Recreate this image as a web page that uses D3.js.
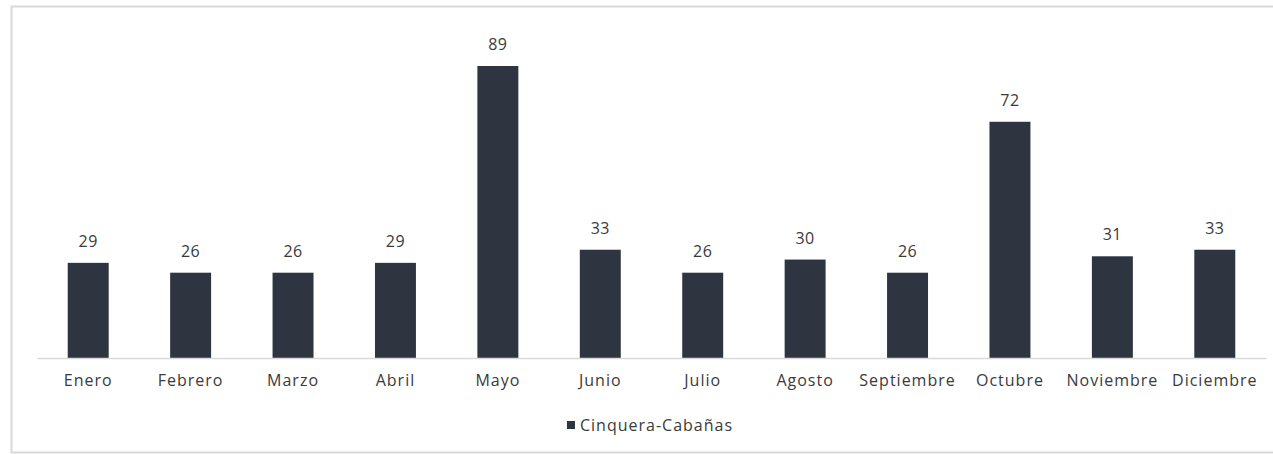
<!DOCTYPE html>
<html>
<head>
<meta charset="utf-8">
<script src="https://cdn.jsdelivr.net/npm/d3@7"></script>
<style>
  html, body { margin: 0; padding: 0; background: #fff; }
  svg { display: block; }
  text { font-family: "Open Sans", "Noto Sans", sans-serif; fill: #3a3a3a; }
</style>
</head>
<body>
<svg id="chart" width="1273" height="454"></svg>
<script>
const categories = ["Enero","Febrero","Marzo","Abril","Mayo","Junio","Julio","Agosto","Septiembre","Octubre","Noviembre","Diciembre"];
const values = [29, 26, 26, 29, 89, 33, 26, 30, 26, 72, 31, 33];
const seriesName = "Cinquera-Cabañas";

const W = 1273, H = 454;
const margin = { left: 37, right: 7 };
const svg = d3.select("#chart");

// frame
svg.append("rect")
  .attr("x", 11.5).attr("y", 6.5)
  .attr("width", W + 10).attr("height", H - 8)
  .attr("fill", "none").attr("stroke", "#d9d9d9").attr("stroke-width", 2);

const x = d3.scaleBand().domain(categories)
  .range([margin.left, W - margin.right]).paddingInner(0.6).paddingOuter(0.3);
const baseY = 358;
const y = d3.scaleLinear().domain([0, 89]).range([baseY, 66]);

svg.selectAll("rect.bar").data(values).join("rect")
  .attr("class", "bar")
  .attr("x", (d, i) => x(categories[i]))
  .attr("width", x.bandwidth())
  .attr("y", d => y(d))
  .attr("height", d => baseY - y(d))
  .attr("fill", "#2e3540");

svg.selectAll("text.val").data(values).join("text")
  .attr("class", "val")
  .attr("x", (d, i) => x(categories[i]) + x.bandwidth() / 2)
  .attr("y", d => y(d) - 16)
  .attr("text-anchor", "middle")
  .attr("font-size", 16)
  .style("letter-spacing", "0.5px")
  .text(d => d);

const axis = d3.axisBottom(x).tickSize(0).tickPadding(17);
const gx = svg.append("g").attr("transform", `translate(0,${baseY})`).call(axis);
gx.select(".domain").attr("stroke", "#d9d9d9").attr("stroke-width", 1.5);
gx.selectAll("text").attr("font-size", 16)
  .style("font-family", '"Open Sans", "Noto Sans", sans-serif')
  .style("letter-spacing", "1px")
  .attr("fill", "#3a3a3a");

// legend
const leg = svg.append("g").attr("transform", "translate(650,425)");
const lt = leg.append("text").attr("x", 0).attr("y", 0).attr("dy", "0.35em")
  .attr("font-size", 16).style("letter-spacing", "1px").text(seriesName);
const tw = lt.node().getComputedTextLength();
const total = tw + 13;
lt.attr("x", -total / 2 + 13);
leg.append("rect").attr("x", -total / 2).attr("y", -4).attr("width", 8).attr("height", 8).attr("fill", "#2e3540");
</script>
</body>
</html>
